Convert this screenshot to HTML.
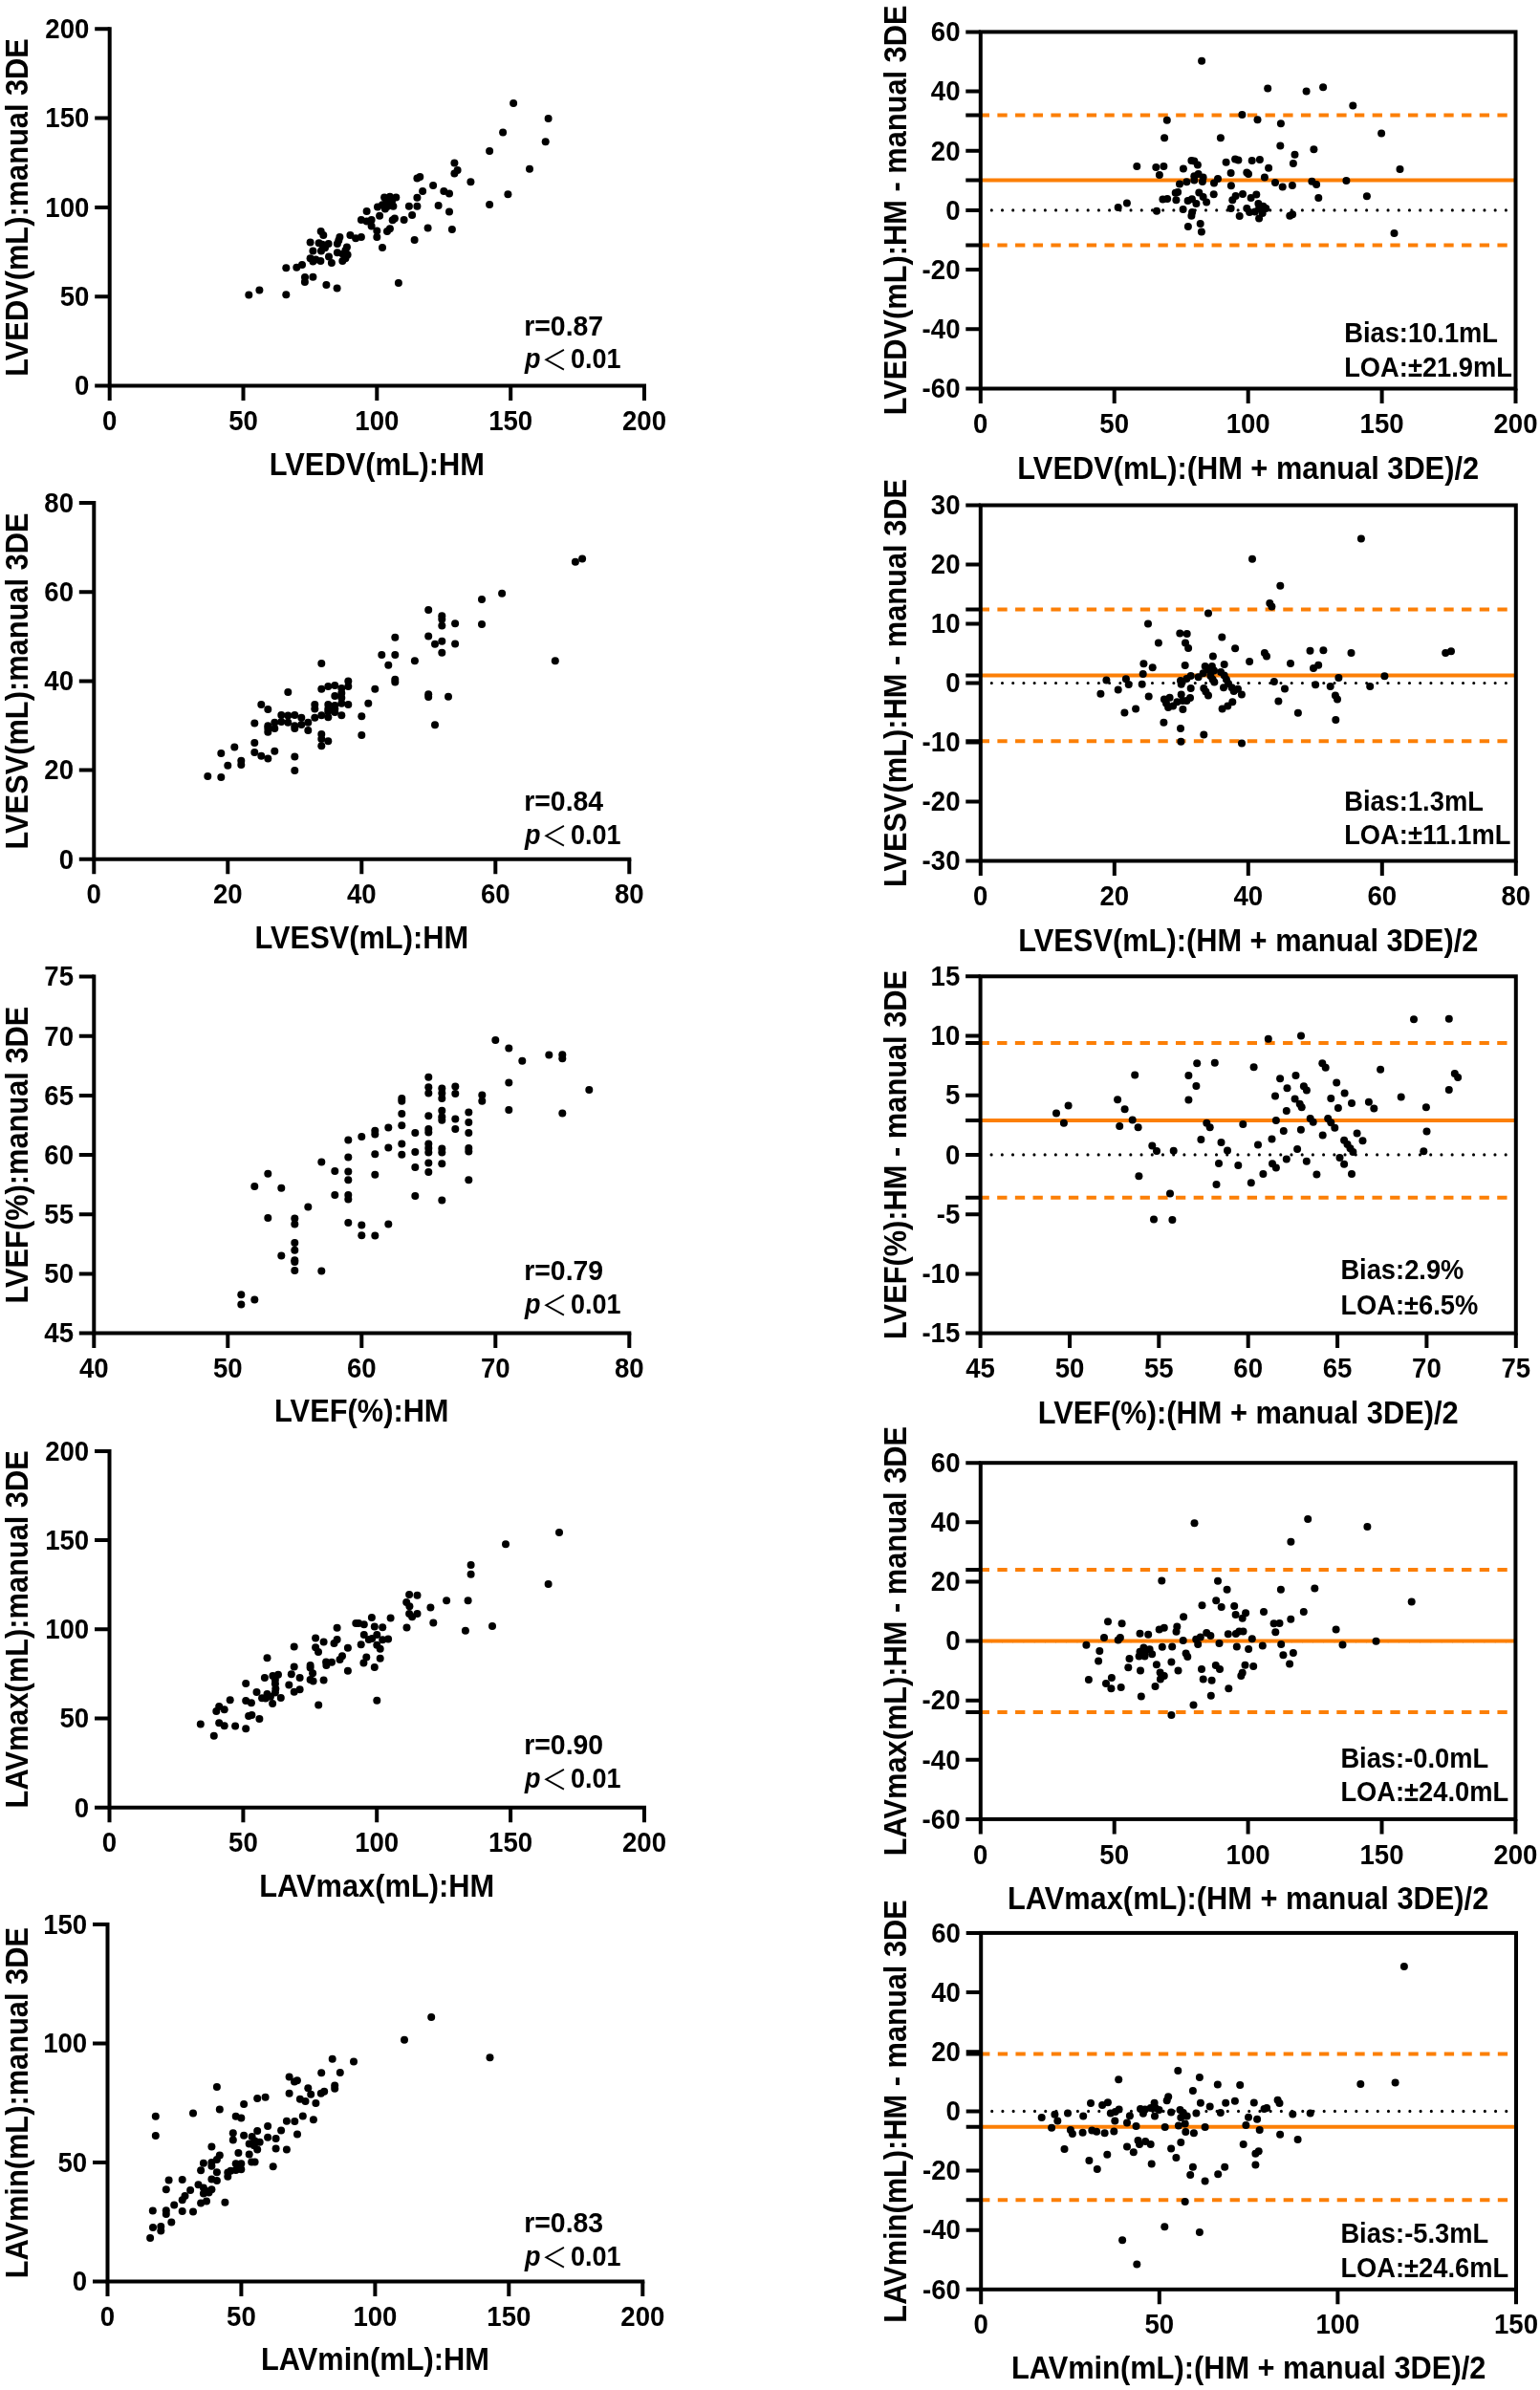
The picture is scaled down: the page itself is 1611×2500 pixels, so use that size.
<!DOCTYPE html>
<html lang="en"><head><meta charset="utf-8"><title>Figure</title>
<style>
html,body{margin:0;padding:0;background:#fff}
svg{display:block;filter:blur(0.55px)}
text{font-family:"Liberation Sans","Noto Sans CJK SC",sans-serif;font-weight:bold;fill:#000}
.t text{font-size:27.6px}
.l{font-size:30.8px}
.a{font-size:27.3px}
.lt{font-family:"Noto Sans CJK SC",sans-serif;font-weight:400}
.d circle{fill:#000}
</style></head><body>
<svg width="1611" height="2500" viewBox="0 0 1611 2500">
<rect width="1611" height="2500" fill="#fff"/>
<g id="P1L">
<path d="M114.7 28.3V403.5H676.0" fill="none" stroke="#000" stroke-width="4.0" stroke-linejoin="miter"/>
<path d="M114.7 403.5v15.5M254.5 403.5v15.5M394.3 403.5v15.5M534.2 403.5v15.5M674.0 403.5v15.5M114.7 403.5h-15.5M114.7 310.2h-15.5M114.7 216.9h-15.5M114.7 123.6h-15.5M114.7 30.3h-15.5" stroke="#000" stroke-width="4.0" fill="none"/>
<g class="t" text-anchor="middle">
<text transform="translate(114.7 450.4) scale(1 1.075)">0</text>
<text transform="translate(254.5 450.4) scale(1 1.075)">50</text>
<text transform="translate(394.3 450.4) scale(1 1.075)">100</text>
<text transform="translate(534.2 450.4) scale(1 1.075)">150</text>
<text transform="translate(674.0 450.4) scale(1 1.075)">200</text>
</g>
<g class="t" text-anchor="end">
<text transform="translate(93.4 413.2) scale(1 1.075)">0</text>
<text transform="translate(93.4 319.9) scale(1 1.075)">50</text>
<text transform="translate(93.4 226.6) scale(1 1.075)">100</text>
<text transform="translate(93.4 133.3) scale(1 1.075)">150</text>
<text transform="translate(93.4 40.0) scale(1 1.075)">200</text>
</g>
<text class="l" text-anchor="middle" transform="translate(394.4 497.0) scale(1 1.075)">LVEDV(mL):HM</text>
<text class="l" text-anchor="middle" transform="translate(28.5 216.9) rotate(-90) scale(1 1.075)">LVEDV(mL):manual 3DE</text>
<text class="a" style="font-size:28.4px" transform="translate(548.2 350.6) scale(1 1.07)">r=0.87</text>
<text class="a" style="font-size:27px" transform="translate(549.0 385.4) scale(1 1.07)"><tspan font-style="italic">p</tspan><tspan class="lt" dy="1.9" dx="1">＜</tspan><tspan dy="-1.9" dx="3.5">0.01</tspan></text>
<g class="d"><circle cx="260.3" cy="308.6" r="4.0"/><circle cx="271.4" cy="303.6" r="4.0"/><circle cx="299.3" cy="308.3" r="4.0"/><circle cx="299.3" cy="280.3" r="4.0"/><circle cx="310.3" cy="279.7" r="4.0"/><circle cx="316.0" cy="276.9" r="4.0"/><circle cx="319.0" cy="290.0" r="4.0"/><circle cx="318.9" cy="295.0" r="4.0"/><circle cx="327.4" cy="289.7" r="4.0"/><circle cx="341.4" cy="297.9" r="4.0"/><circle cx="352.6" cy="301.4" r="4.0"/><circle cx="416.9" cy="296.1" r="4.0"/><circle cx="324.6" cy="253.6" r="4.0"/><circle cx="327.4" cy="262.6" r="4.0"/><circle cx="324.6" cy="270.3" r="4.0"/><circle cx="327.4" cy="273.6" r="4.0"/><circle cx="330.3" cy="271.4" r="4.0"/><circle cx="335.4" cy="272.9" r="4.0"/><circle cx="335.7" cy="242.1" r="4.0"/><circle cx="338.3" cy="246.0" r="4.0"/><circle cx="333.6" cy="254.3" r="4.0"/><circle cx="337.1" cy="255.7" r="4.0"/><circle cx="343.6" cy="255.0" r="4.0"/><circle cx="340.0" cy="259.3" r="4.0"/><circle cx="336.0" cy="262.6" r="4.0"/><circle cx="344.0" cy="268.6" r="4.0"/><circle cx="346.9" cy="275.0" r="4.0"/><circle cx="355.4" cy="247.9" r="4.0"/><circle cx="354.3" cy="251.4" r="4.0"/><circle cx="352.9" cy="255.0" r="4.0"/><circle cx="352.9" cy="264.3" r="4.0"/><circle cx="358.6" cy="265.7" r="4.0"/><circle cx="362.9" cy="258.6" r="4.0"/><circle cx="361.4" cy="262.1" r="4.0"/><circle cx="363.6" cy="266.4" r="4.0"/><circle cx="361.4" cy="270.3" r="4.0"/><circle cx="358.3" cy="272.9" r="4.0"/><circle cx="366.4" cy="246.0" r="4.0"/><circle cx="372.1" cy="249.3" r="4.0"/><circle cx="377.9" cy="247.9" r="4.0"/><circle cx="377.9" cy="230.0" r="4.0"/><circle cx="383.6" cy="221.1" r="4.0"/><circle cx="383.6" cy="231.4" r="4.0"/><circle cx="388.6" cy="230.0" r="4.0"/><circle cx="388.6" cy="236.4" r="4.0"/><circle cx="394.3" cy="241.4" r="4.0"/><circle cx="394.3" cy="247.9" r="4.0"/><circle cx="400.0" cy="258.9" r="4.0"/><circle cx="397.1" cy="225.7" r="4.0"/><circle cx="395.0" cy="216.4" r="4.0"/><circle cx="402.1" cy="206.4" r="4.0"/><circle cx="407.9" cy="205.7" r="4.0"/><circle cx="414.3" cy="206.4" r="4.0"/><circle cx="404.3" cy="210.7" r="4.0"/><circle cx="410.0" cy="210.7" r="4.0"/><circle cx="400.0" cy="214.3" r="4.0"/><circle cx="405.7" cy="215.7" r="4.0"/><circle cx="411.4" cy="215.7" r="4.0"/><circle cx="402.9" cy="218.6" r="4.0"/><circle cx="412.9" cy="228.6" r="4.0"/><circle cx="410.7" cy="230.3" r="4.0"/><circle cx="422.6" cy="230.0" r="4.0"/><circle cx="407.9" cy="239.3" r="4.0"/><circle cx="405.0" cy="242.1" r="4.0"/><circle cx="431.1" cy="225.0" r="4.0"/><circle cx="427.9" cy="215.7" r="4.0"/><circle cx="436.4" cy="215.7" r="4.0"/><circle cx="436.4" cy="206.7" r="4.0"/><circle cx="442.1" cy="200.0" r="4.0"/><circle cx="436.4" cy="186.4" r="4.0"/><circle cx="439.3" cy="185.0" r="4.0"/><circle cx="453.1" cy="193.9" r="4.0"/><circle cx="458.6" cy="215.0" r="4.0"/><circle cx="447.6" cy="238.6" r="4.0"/><circle cx="433.6" cy="251.1" r="4.0"/><circle cx="537.1" cy="108.1" r="4.0"/><circle cx="573.6" cy="123.9" r="4.0"/><circle cx="526.1" cy="138.6" r="4.0"/><circle cx="570.7" cy="148.3" r="4.0"/><circle cx="512.1" cy="158.0" r="4.0"/><circle cx="554.0" cy="176.7" r="4.0"/><circle cx="475.4" cy="170.4" r="4.0"/><circle cx="478.6" cy="177.9" r="4.0"/><circle cx="475.4" cy="181.4" r="4.0"/><circle cx="492.4" cy="190.3" r="4.0"/><circle cx="531.4" cy="203.3" r="4.0"/><circle cx="512.1" cy="214.0" r="4.0"/><circle cx="464.3" cy="200.0" r="4.0"/><circle cx="470.0" cy="202.4" r="4.0"/><circle cx="470.0" cy="221.4" r="4.0"/><circle cx="472.9" cy="240.0" r="4.0"/></g>
</g>
<g id="P2L">
<path d="M98.3 524.1V898.8H660.3" fill="none" stroke="#000" stroke-width="4.0" stroke-linejoin="miter"/>
<path d="M98.3 898.8v15.5M238.3 898.8v15.5M378.3 898.8v15.5M518.3 898.8v15.5M658.3 898.8v15.5M98.3 898.8h-15.5M98.3 805.6h-15.5M98.3 712.5h-15.5M98.3 619.3h-15.5M98.3 526.1h-15.5" stroke="#000" stroke-width="4.0" fill="none"/>
<g class="t" text-anchor="middle">
<text transform="translate(98.3 945.4) scale(1 1.075)">0</text>
<text transform="translate(238.3 945.4) scale(1 1.075)">20</text>
<text transform="translate(378.3 945.4) scale(1 1.075)">40</text>
<text transform="translate(518.3 945.4) scale(1 1.075)">60</text>
<text transform="translate(658.3 945.4) scale(1 1.075)">80</text>
</g>
<g class="t" text-anchor="end">
<text transform="translate(77.0 908.5) scale(1 1.075)">0</text>
<text transform="translate(77.0 815.3) scale(1 1.075)">20</text>
<text transform="translate(77.0 722.2) scale(1 1.075)">40</text>
<text transform="translate(77.0 629.0) scale(1 1.075)">60</text>
<text transform="translate(77.0 535.8) scale(1 1.075)">80</text>
</g>
<text class="l" text-anchor="middle" transform="translate(378.3 992.0) scale(1 1.075)">LVESV(mL):HM</text>
<text class="l" text-anchor="middle" transform="translate(28.5 712.5) rotate(-90) scale(1 1.075)">LVESV(mL):manual 3DE</text>
<text class="a" style="font-size:28.4px" transform="translate(548.2 848.3) scale(1 1.07)">r=0.84</text>
<text class="a" style="font-size:27px" transform="translate(549.0 883.4) scale(1 1.07)"><tspan font-style="italic">p</tspan><tspan class="lt" dy="1.9" dx="1">＜</tspan><tspan dy="-1.9" dx="3.5">0.01</tspan></text>
<g class="d"><circle cx="217.3" cy="811.9" r="4.0"/><circle cx="231.3" cy="787.9" r="4.0"/><circle cx="231.3" cy="812.9" r="4.0"/><circle cx="238.3" cy="800.7" r="4.0"/><circle cx="245.3" cy="781.4" r="4.0"/><circle cx="252.3" cy="795.7" r="4.0"/><circle cx="252.3" cy="800.0" r="4.0"/><circle cx="266.3" cy="756.4" r="4.0"/><circle cx="266.3" cy="777.1" r="4.0"/><circle cx="266.3" cy="787.1" r="4.0"/><circle cx="273.3" cy="736.9" r="4.0"/><circle cx="273.3" cy="790.7" r="4.0"/><circle cx="280.3" cy="742.1" r="4.0"/><circle cx="280.3" cy="759.3" r="4.0"/><circle cx="280.3" cy="762.1" r="4.0"/><circle cx="280.3" cy="765.7" r="4.0"/><circle cx="280.3" cy="793.6" r="4.0"/><circle cx="287.3" cy="755.7" r="4.0"/><circle cx="287.3" cy="762.1" r="4.0"/><circle cx="287.3" cy="785.7" r="4.0"/><circle cx="294.3" cy="747.9" r="4.0"/><circle cx="294.3" cy="755.0" r="4.0"/><circle cx="301.3" cy="723.9" r="4.0"/><circle cx="301.3" cy="748.6" r="4.0"/><circle cx="301.3" cy="755.7" r="4.0"/><circle cx="308.3" cy="747.9" r="4.0"/><circle cx="308.3" cy="759.3" r="4.0"/><circle cx="308.3" cy="762.1" r="4.0"/><circle cx="308.3" cy="791.4" r="4.0"/><circle cx="308.3" cy="806.0" r="4.0"/><circle cx="315.3" cy="750.7" r="4.0"/><circle cx="315.3" cy="757.9" r="4.0"/><circle cx="322.3" cy="755.7" r="4.0"/><circle cx="322.3" cy="764.0" r="4.0"/><circle cx="329.3" cy="736.9" r="4.0"/><circle cx="329.3" cy="741.4" r="4.0"/><circle cx="329.3" cy="750.7" r="4.0"/><circle cx="336.3" cy="693.9" r="4.0"/><circle cx="336.3" cy="720.7" r="4.0"/><circle cx="336.3" cy="748.3" r="4.0"/><circle cx="336.3" cy="767.9" r="4.0"/><circle cx="336.3" cy="772.9" r="4.0"/><circle cx="336.3" cy="780.3" r="4.0"/><circle cx="343.3" cy="717.9" r="4.0"/><circle cx="343.3" cy="737.1" r="4.0"/><circle cx="343.3" cy="741.4" r="4.0"/><circle cx="343.3" cy="744.3" r="4.0"/><circle cx="343.3" cy="750.3" r="4.0"/><circle cx="343.3" cy="775.3" r="4.0"/><circle cx="350.3" cy="716.9" r="4.0"/><circle cx="350.3" cy="728.1" r="4.0"/><circle cx="350.3" cy="737.9" r="4.0"/><circle cx="350.3" cy="741.4" r="4.0"/><circle cx="350.3" cy="745.0" r="4.0"/><circle cx="357.3" cy="720.0" r="4.0"/><circle cx="357.3" cy="725.0" r="4.0"/><circle cx="357.3" cy="730.0" r="4.0"/><circle cx="357.3" cy="735.7" r="4.0"/><circle cx="357.3" cy="748.3" r="4.0"/><circle cx="364.3" cy="712.6" r="4.0"/><circle cx="364.3" cy="717.9" r="4.0"/><circle cx="364.3" cy="736.9" r="4.0"/><circle cx="378.3" cy="749.3" r="4.0"/><circle cx="378.3" cy="768.9" r="4.0"/><circle cx="385.3" cy="735.7" r="4.0"/><circle cx="392.3" cy="720.7" r="4.0"/><circle cx="399.3" cy="685.0" r="4.0"/><circle cx="406.3" cy="695.7" r="4.0"/><circle cx="413.3" cy="685.0" r="4.0"/><circle cx="413.3" cy="710.7" r="4.0"/><circle cx="413.3" cy="713.6" r="4.0"/><circle cx="609.1" cy="584.4" r="4.0"/><circle cx="601.9" cy="587.7" r="4.0"/><circle cx="525.1" cy="620.7" r="4.0"/><circle cx="504.0" cy="626.9" r="4.0"/><circle cx="448.2" cy="637.9" r="4.0"/><circle cx="462.3" cy="644.3" r="4.0"/><circle cx="462.3" cy="647.7" r="4.0"/><circle cx="462.3" cy="654.4" r="4.0"/><circle cx="476.1" cy="652.2" r="4.0"/><circle cx="504.0" cy="653.1" r="4.0"/><circle cx="413.3" cy="666.7" r="4.0"/><circle cx="448.2" cy="665.6" r="4.0"/><circle cx="462.3" cy="670.8" r="4.0"/><circle cx="455.0" cy="673.8" r="4.0"/><circle cx="476.1" cy="673.5" r="4.0"/><circle cx="462.3" cy="682.8" r="4.0"/><circle cx="433.9" cy="691.2" r="4.0"/><circle cx="580.8" cy="691.2" r="4.0"/><circle cx="448.2" cy="726.2" r="4.0"/><circle cx="448.2" cy="729.0" r="4.0"/><circle cx="469.0" cy="728.7" r="4.0"/><circle cx="455.0" cy="758.2" r="4.0"/></g>
</g>
<g id="P3L">
<path d="M98.3 1019.6V1394.6H660.3" fill="none" stroke="#000" stroke-width="4.0" stroke-linejoin="miter"/>
<path d="M98.3 1394.6v15.5M238.3 1394.6v15.5M378.3 1394.6v15.5M518.3 1394.6v15.5M658.3 1394.6v15.5M98.3 1394.6h-15.5M98.3 1332.4h-15.5M98.3 1270.3h-15.5M98.3 1208.1h-15.5M98.3 1145.9h-15.5M98.3 1083.8h-15.5M98.3 1021.6h-15.5" stroke="#000" stroke-width="4.0" fill="none"/>
<g class="t" text-anchor="middle">
<text transform="translate(98.3 1441.4) scale(1 1.075)">40</text>
<text transform="translate(238.3 1441.4) scale(1 1.075)">50</text>
<text transform="translate(378.3 1441.4) scale(1 1.075)">60</text>
<text transform="translate(518.3 1441.4) scale(1 1.075)">70</text>
<text transform="translate(658.3 1441.4) scale(1 1.075)">80</text>
</g>
<g class="t" text-anchor="end">
<text transform="translate(77.0 1404.3) scale(1 1.075)">45</text>
<text transform="translate(77.0 1342.1) scale(1 1.075)">50</text>
<text transform="translate(77.0 1280.0) scale(1 1.075)">55</text>
<text transform="translate(77.0 1217.8) scale(1 1.075)">60</text>
<text transform="translate(77.0 1155.6) scale(1 1.075)">65</text>
<text transform="translate(77.0 1093.5) scale(1 1.075)">70</text>
<text transform="translate(77.0 1031.3) scale(1 1.075)">75</text>
</g>
<text class="l" text-anchor="middle" transform="translate(378.3 1487.0) scale(1 1.075)">LVEF(%):HM</text>
<text class="l" text-anchor="middle" transform="translate(28.5 1208.1) rotate(-90) scale(1 1.075)">LVEF(%):manual 3DE</text>
<text class="a" style="font-size:28.4px" transform="translate(548.2 1339.0) scale(1 1.07)">r=0.79</text>
<text class="a" style="font-size:27px" transform="translate(549.0 1374.0) scale(1 1.07)"><tspan font-style="italic">p</tspan><tspan class="lt" dy="1.9" dx="1">＜</tspan><tspan dy="-1.9" dx="3.5">0.01</tspan></text>
<g class="d"><circle cx="266.3" cy="1240.9" r="4.0"/><circle cx="280.3" cy="1227.8" r="4.0"/><circle cx="294.3" cy="1242.7" r="4.0"/><circle cx="322.3" cy="1262.4" r="4.0"/><circle cx="336.3" cy="1215.5" r="4.0"/><circle cx="350.3" cy="1224.9" r="4.0"/><circle cx="350.3" cy="1250.0" r="4.0"/><circle cx="364.3" cy="1192.4" r="4.0"/><circle cx="364.3" cy="1210.4" r="4.0"/><circle cx="364.3" cy="1225.5" r="4.0"/><circle cx="364.3" cy="1234.2" r="4.0"/><circle cx="364.3" cy="1250.0" r="4.0"/><circle cx="364.3" cy="1254.5" r="4.0"/><circle cx="378.3" cy="1189.1" r="4.0"/><circle cx="392.3" cy="1182.7" r="4.0"/><circle cx="392.3" cy="1186.4" r="4.0"/><circle cx="392.3" cy="1207.3" r="4.0"/><circle cx="392.3" cy="1228.7" r="4.0"/><circle cx="406.3" cy="1179.5" r="4.0"/><circle cx="406.3" cy="1200.5" r="4.0"/><circle cx="420.3" cy="1149.1" r="4.0"/><circle cx="420.3" cy="1151.8" r="4.0"/><circle cx="420.3" cy="1164.9" r="4.0"/><circle cx="420.3" cy="1177.3" r="4.0"/><circle cx="420.3" cy="1196.4" r="4.0"/><circle cx="420.3" cy="1207.8" r="4.0"/><circle cx="434.3" cy="1185.1" r="4.0"/><circle cx="434.3" cy="1205.1" r="4.0"/><circle cx="434.3" cy="1220.9" r="4.0"/><circle cx="434.3" cy="1250.9" r="4.0"/><circle cx="448.3" cy="1126.7" r="4.0"/><circle cx="448.3" cy="1137.3" r="4.0"/><circle cx="448.3" cy="1143.6" r="4.0"/><circle cx="448.3" cy="1167.3" r="4.0"/><circle cx="448.3" cy="1180.9" r="4.0"/><circle cx="448.3" cy="1184.5" r="4.0"/><circle cx="448.3" cy="1196.4" r="4.0"/><circle cx="448.3" cy="1200.9" r="4.0"/><circle cx="448.3" cy="1205.5" r="4.0"/><circle cx="448.3" cy="1216.4" r="4.0"/><circle cx="448.3" cy="1226.0" r="4.0"/><circle cx="462.3" cy="1138.5" r="4.0"/><circle cx="462.3" cy="1143.6" r="4.0"/><circle cx="462.3" cy="1149.1" r="4.0"/><circle cx="462.3" cy="1161.8" r="4.0"/><circle cx="462.3" cy="1168.2" r="4.0"/><circle cx="462.3" cy="1171.8" r="4.0"/><circle cx="462.3" cy="1201.5" r="4.0"/><circle cx="462.3" cy="1205.5" r="4.0"/><circle cx="462.3" cy="1217.3" r="4.0"/><circle cx="462.3" cy="1255.5" r="4.0"/><circle cx="476.3" cy="1136.4" r="4.0"/><circle cx="476.3" cy="1144.0" r="4.0"/><circle cx="476.3" cy="1170.4" r="4.0"/><circle cx="476.3" cy="1180.9" r="4.0"/><circle cx="490.3" cy="1163.6" r="4.0"/><circle cx="490.3" cy="1174.0" r="4.0"/><circle cx="490.3" cy="1185.1" r="4.0"/><circle cx="490.3" cy="1200.9" r="4.0"/><circle cx="490.3" cy="1204.5" r="4.0"/><circle cx="490.3" cy="1234.2" r="4.0"/><circle cx="504.3" cy="1145.5" r="4.0"/><circle cx="504.3" cy="1151.8" r="4.0"/><circle cx="252.3" cy="1354.2" r="4.0"/><circle cx="252.3" cy="1364.5" r="4.0"/><circle cx="266.3" cy="1359.6" r="4.0"/><circle cx="280.3" cy="1274.0" r="4.0"/><circle cx="294.3" cy="1313.6" r="4.0"/><circle cx="308.3" cy="1274.5" r="4.0"/><circle cx="308.3" cy="1280.5" r="4.0"/><circle cx="308.3" cy="1300.0" r="4.0"/><circle cx="308.3" cy="1307.8" r="4.0"/><circle cx="308.3" cy="1318.2" r="4.0"/><circle cx="308.3" cy="1320.0" r="4.0"/><circle cx="308.3" cy="1329.1" r="4.0"/><circle cx="336.3" cy="1329.6" r="4.0"/><circle cx="364.3" cy="1279.1" r="4.0"/><circle cx="378.3" cy="1281.5" r="4.0"/><circle cx="378.3" cy="1292.2" r="4.0"/><circle cx="392.3" cy="1292.4" r="4.0"/><circle cx="406.3" cy="1280.4" r="4.0"/><circle cx="518.3" cy="1088.1" r="4.0"/><circle cx="532.3" cy="1096.5" r="4.0"/><circle cx="532.3" cy="1132.5" r="4.0"/><circle cx="532.3" cy="1161.1" r="4.0"/><circle cx="546.3" cy="1109.7" r="4.0"/><circle cx="574.3" cy="1103.5" r="4.0"/><circle cx="588.3" cy="1103.2" r="4.0"/><circle cx="588.3" cy="1107.3" r="4.0"/><circle cx="588.3" cy="1164.4" r="4.0"/><circle cx="616.3" cy="1140.1" r="4.0"/></g>
</g>
<g id="P4L">
<path d="M114.5 1515.9V1890.8H676.0" fill="none" stroke="#000" stroke-width="4.0" stroke-linejoin="miter"/>
<path d="M114.5 1890.8v15.5M254.4 1890.8v15.5M394.2 1890.8v15.5M534.1 1890.8v15.5M674.0 1890.8v15.5M114.5 1890.8h-15.5M114.5 1797.6h-15.5M114.5 1704.3h-15.5M114.5 1611.1h-15.5M114.5 1517.9h-15.5" stroke="#000" stroke-width="4.0" fill="none"/>
<g class="t" text-anchor="middle">
<text transform="translate(114.5 1937.4) scale(1 1.075)">0</text>
<text transform="translate(254.4 1937.4) scale(1 1.075)">50</text>
<text transform="translate(394.2 1937.4) scale(1 1.075)">100</text>
<text transform="translate(534.1 1937.4) scale(1 1.075)">150</text>
<text transform="translate(674.0 1937.4) scale(1 1.075)">200</text>
</g>
<g class="t" text-anchor="end">
<text transform="translate(93.2 1900.5) scale(1 1.075)">0</text>
<text transform="translate(93.2 1807.3) scale(1 1.075)">50</text>
<text transform="translate(93.2 1714.0) scale(1 1.075)">100</text>
<text transform="translate(93.2 1620.8) scale(1 1.075)">150</text>
<text transform="translate(93.2 1527.6) scale(1 1.075)">200</text>
</g>
<text class="l" text-anchor="middle" transform="translate(394.2 1984.0) scale(1 1.075)">LAVmax(mL):HM</text>
<text class="l" text-anchor="middle" transform="translate(28.5 1704.3) rotate(-90) scale(1 1.075)">LAVmax(mL):manual 3DE</text>
<text class="a" style="font-size:28.4px" transform="translate(548.2 1834.9) scale(1 1.07)">r=0.90</text>
<text class="a" style="font-size:27px" transform="translate(549.0 1869.5) scale(1 1.07)"><tspan font-style="italic">p</tspan><tspan class="lt" dy="1.9" dx="1">＜</tspan><tspan dy="-1.9" dx="3.5">0.01</tspan></text>
<g class="d"><circle cx="209.8" cy="1803.5" r="4.0"/><circle cx="223.8" cy="1815.8" r="4.0"/><circle cx="229.2" cy="1784.9" r="4.0"/><circle cx="226.3" cy="1790.0" r="4.0"/><circle cx="234.7" cy="1788.3" r="4.0"/><circle cx="240.7" cy="1778.2" r="4.0"/><circle cx="229.2" cy="1802.3" r="4.0"/><circle cx="234.7" cy="1805.2" r="4.0"/><circle cx="246.1" cy="1805.5" r="4.0"/><circle cx="257.2" cy="1808.2" r="4.0"/><circle cx="257.2" cy="1761.0" r="4.0"/><circle cx="257.2" cy="1779.0" r="4.0"/><circle cx="262.9" cy="1781.2" r="4.0"/><circle cx="260.1" cy="1795.1" r="4.0"/><circle cx="263.4" cy="1793.9" r="4.0"/><circle cx="271.4" cy="1797.9" r="4.0"/><circle cx="268.5" cy="1770.1" r="4.0"/><circle cx="274.1" cy="1776.2" r="4.0"/><circle cx="277.8" cy="1776.5" r="4.0"/><circle cx="279.5" cy="1771.9" r="4.0"/><circle cx="282.9" cy="1774.8" r="4.0"/><circle cx="285.1" cy="1781.9" r="4.0"/><circle cx="293.8" cy="1776.0" r="4.0"/><circle cx="276.9" cy="1754.9" r="4.0"/><circle cx="279.5" cy="1734.3" r="4.0"/><circle cx="285.4" cy="1752.9" r="4.0"/><circle cx="291.0" cy="1751.7" r="4.0"/><circle cx="287.9" cy="1757.1" r="4.0"/><circle cx="287.9" cy="1761.3" r="4.0"/><circle cx="288.3" cy="1766.4" r="4.0"/><circle cx="287.9" cy="1770.6" r="4.0"/><circle cx="302.3" cy="1762.5" r="4.0"/><circle cx="304.8" cy="1751.2" r="4.0"/><circle cx="307.7" cy="1743.6" r="4.0"/><circle cx="307.7" cy="1722.5" r="4.0"/><circle cx="313.6" cy="1755.1" r="4.0"/><circle cx="307.7" cy="1769.7" r="4.0"/><circle cx="313.6" cy="1767.2" r="4.0"/><circle cx="324.6" cy="1741.9" r="4.0"/><circle cx="324.6" cy="1744.4" r="4.0"/><circle cx="327.1" cy="1750.3" r="4.0"/><circle cx="324.6" cy="1757.1" r="4.0"/><circle cx="327.6" cy="1758.4" r="4.0"/><circle cx="333.2" cy="1783.6" r="4.0"/><circle cx="338.6" cy="1757.4" r="4.0"/><circle cx="330.1" cy="1713.5" r="4.0"/><circle cx="338.6" cy="1717.4" r="4.0"/><circle cx="330.1" cy="1723.3" r="4.0"/><circle cx="333.0" cy="1728.0" r="4.0"/><circle cx="341.1" cy="1738.5" r="4.0"/><circle cx="341.4" cy="1741.9" r="4.0"/><circle cx="347.0" cy="1738.8" r="4.0"/><circle cx="352.6" cy="1702.7" r="4.0"/><circle cx="352.6" cy="1714.9" r="4.0"/><circle cx="349.5" cy="1719.1" r="4.0"/><circle cx="358.0" cy="1732.3" r="4.0"/><circle cx="355.5" cy="1736.0" r="4.0"/><circle cx="363.9" cy="1723.7" r="4.0"/><circle cx="363.9" cy="1747.8" r="4.0"/><circle cx="372.3" cy="1698.0" r="4.0"/><circle cx="375.2" cy="1698.0" r="4.0"/><circle cx="380.8" cy="1699.2" r="4.0"/><circle cx="388.9" cy="1692.1" r="4.0"/><circle cx="391.8" cy="1701.4" r="4.0"/><circle cx="400.2" cy="1702.2" r="4.0"/><circle cx="408.6" cy="1692.4" r="4.0"/><circle cx="380.8" cy="1710.1" r="4.0"/><circle cx="385.8" cy="1714.9" r="4.0"/><circle cx="389.2" cy="1714.0" r="4.0"/><circle cx="394.3" cy="1710.1" r="4.0"/><circle cx="400.2" cy="1715.2" r="4.0"/><circle cx="406.1" cy="1714.5" r="4.0"/><circle cx="377.7" cy="1720.3" r="4.0"/><circle cx="394.3" cy="1720.8" r="4.0"/><circle cx="397.7" cy="1724.7" r="4.0"/><circle cx="383.3" cy="1733.4" r="4.0"/><circle cx="380.4" cy="1739.4" r="4.0"/><circle cx="397.7" cy="1734.8" r="4.0"/><circle cx="391.8" cy="1743.9" r="4.0"/><circle cx="394.3" cy="1778.7" r="4.0"/><circle cx="425.5" cy="1702.5" r="4.0"/><circle cx="428.1" cy="1667.9" r="4.0"/><circle cx="436.5" cy="1668.8" r="4.0"/><circle cx="425.2" cy="1676.0" r="4.0"/><circle cx="428.4" cy="1680.3" r="4.0"/><circle cx="428.1" cy="1687.9" r="4.0"/><circle cx="431.1" cy="1691.2" r="4.0"/><circle cx="436.5" cy="1687.9" r="4.0"/><circle cx="585" cy="1602.9" r="4.0"/><circle cx="529" cy="1615.3" r="4.0"/><circle cx="492.6" cy="1637.1" r="4.0"/><circle cx="492.6" cy="1646.7" r="4.0"/><circle cx="573.6" cy="1657.1" r="4.0"/><circle cx="467.1" cy="1674.3" r="4.0"/><circle cx="489.6" cy="1674.3" r="4.0"/><circle cx="450.4" cy="1681.4" r="4.0"/><circle cx="453.3" cy="1697.4" r="4.0"/><circle cx="515" cy="1701" r="4.0"/><circle cx="486.9" cy="1705.7" r="4.0"/></g>
</g>
<g id="P5L">
<path d="M112.5 2010.9V2386.4H674.3" fill="none" stroke="#000" stroke-width="4.0" stroke-linejoin="miter"/>
<path d="M112.5 2386.4v15.5M252.4 2386.4v15.5M392.4 2386.4v15.5M532.3 2386.4v15.5M672.3 2386.4v15.5M112.5 2386.4h-15.5M112.5 2261.9h-15.5M112.5 2137.4h-15.5M112.5 2012.9h-15.5" stroke="#000" stroke-width="4.0" fill="none"/>
<g class="t" text-anchor="middle">
<text transform="translate(112.5 2432.7) scale(1 1.075)">0</text>
<text transform="translate(252.4 2432.7) scale(1 1.075)">50</text>
<text transform="translate(392.4 2432.7) scale(1 1.075)">100</text>
<text transform="translate(532.3 2432.7) scale(1 1.075)">150</text>
<text transform="translate(672.3 2432.7) scale(1 1.075)">200</text>
</g>
<g class="t" text-anchor="end">
<text transform="translate(91.2 2396.1) scale(1 1.075)">0</text>
<text transform="translate(91.2 2271.6) scale(1 1.075)">50</text>
<text transform="translate(91.2 2147.1) scale(1 1.075)">100</text>
<text transform="translate(91.2 2022.6) scale(1 1.075)">150</text>
</g>
<text class="l" text-anchor="middle" transform="translate(392.4 2479.0) scale(1 1.075)">LAVmin(mL):HM</text>
<text class="l" text-anchor="middle" transform="translate(28.5 2199.7) rotate(-90) scale(1 1.075)">LAVmin(mL):manual 3DE</text>
<text class="a" style="font-size:28.4px" transform="translate(548.2 2334.9) scale(1 1.07)">r=0.83</text>
<text class="a" style="font-size:27px" transform="translate(549.0 2369.5) scale(1 1.07)"><tspan font-style="italic">p</tspan><tspan class="lt" dy="1.9" dx="1">＜</tspan><tspan dy="-1.9" dx="3.5">0.01</tspan></text>
<g class="d"><circle cx="347.7" cy="2153.8" r="4.0"/><circle cx="370.0" cy="2156.5" r="4.0"/><circle cx="336.2" cy="2168.2" r="4.0"/><circle cx="355.8" cy="2167.9" r="4.0"/><circle cx="302.6" cy="2172.4" r="4.0"/><circle cx="308.0" cy="2177.5" r="4.0"/><circle cx="310.9" cy="2176.3" r="4.0"/><circle cx="350.2" cy="2181.4" r="4.0"/><circle cx="350.2" cy="2184.7" r="4.0"/><circle cx="322.3" cy="2184.2" r="4.0"/><circle cx="325.2" cy="2190.7" r="4.0"/><circle cx="335.8" cy="2189.8" r="4.0"/><circle cx="339.2" cy="2187.8" r="4.0"/><circle cx="302.6" cy="2189.8" r="4.0"/><circle cx="313.9" cy="2195.7" r="4.0"/><circle cx="319.5" cy="2197.9" r="4.0"/><circle cx="330.4" cy="2199.9" r="4.0"/><circle cx="226.9" cy="2183.1" r="4.0"/><circle cx="269.2" cy="2194.9" r="4.0"/><circle cx="277.6" cy="2193.7" r="4.0"/><circle cx="255.1" cy="2201.1" r="4.0"/><circle cx="229.8" cy="2206.4" r="4.0"/><circle cx="202.0" cy="2210.4" r="4.0"/><circle cx="162.8" cy="2213.8" r="4.0"/><circle cx="246.7" cy="2213.8" r="4.0"/><circle cx="252.3" cy="2215.5" r="4.0"/><circle cx="316.8" cy="2213.4" r="4.0"/><circle cx="327.9" cy="2217.2" r="4.0"/><circle cx="299.9" cy="2218.8" r="4.0"/><circle cx="308.3" cy="2219.0" r="4.0"/><circle cx="280.1" cy="2223.9" r="4.0"/><circle cx="269.2" cy="2229.1" r="4.0"/><circle cx="294.1" cy="2228.6" r="4.0"/><circle cx="311.0" cy="2232.5" r="4.0"/><circle cx="162.8" cy="2234.0" r="4.0"/><circle cx="243.8" cy="2231.2" r="4.0"/><circle cx="243.8" cy="2238.4" r="4.0"/><circle cx="255.1" cy="2233.7" r="4.0"/><circle cx="280.1" cy="2235.7" r="4.0"/><circle cx="288.6" cy="2237.1" r="4.0"/><circle cx="263.6" cy="2235.1" r="4.0"/><circle cx="266.6" cy="2239.6" r="4.0"/><circle cx="260.7" cy="2242.5" r="4.0"/><circle cx="271.7" cy="2240.8" r="4.0"/><circle cx="265.8" cy="2244.2" r="4.0"/><circle cx="269.2" cy="2248.6" r="4.0"/><circle cx="288.6" cy="2247.5" r="4.0"/><circle cx="299.9" cy="2248.6" r="4.0"/><circle cx="221.4" cy="2245.5" r="4.0"/><circle cx="249.4" cy="2251.9" r="4.0"/><circle cx="260.7" cy="2253.6" r="4.0"/><circle cx="229.8" cy="2254.5" r="4.0"/><circle cx="226.9" cy="2259.0" r="4.0"/><circle cx="212.9" cy="2262.7" r="4.0"/><circle cx="221.4" cy="2261.9" r="4.0"/><circle cx="221.4" cy="2265.8" r="4.0"/><circle cx="263.2" cy="2261.6" r="4.0"/><circle cx="266.6" cy="2261.6" r="4.0"/><circle cx="285.7" cy="2266.3" r="4.0"/><circle cx="246.7" cy="2263.2" r="4.0"/><circle cx="252.3" cy="2263.2" r="4.0"/><circle cx="249.4" cy="2266.6" r="4.0"/><circle cx="246.7" cy="2270.0" r="4.0"/><circle cx="252.3" cy="2269.2" r="4.0"/><circle cx="210.1" cy="2270.3" r="4.0"/><circle cx="226.9" cy="2272.2" r="4.0"/><circle cx="238.3" cy="2272.5" r="4.0"/><circle cx="241.3" cy="2270.8" r="4.0"/><circle cx="238.3" cy="2276.8" r="4.0"/><circle cx="176.6" cy="2280.6" r="4.0"/><circle cx="190.7" cy="2280.1" r="4.0"/><circle cx="221.4" cy="2279.6" r="4.0"/><circle cx="226.9" cy="2281.0" r="4.0"/><circle cx="207.5" cy="2285.2" r="4.0"/><circle cx="173.8" cy="2290.3" r="4.0"/><circle cx="199.1" cy="2291.1" r="4.0"/><circle cx="212.9" cy="2288.6" r="4.0"/><circle cx="216.0" cy="2292.0" r="4.0"/><circle cx="221.4" cy="2290.3" r="4.0"/><circle cx="212.9" cy="2294.5" r="4.0"/><circle cx="218.5" cy="2293.6" r="4.0"/><circle cx="193.5" cy="2297.0" r="4.0"/><circle cx="190.7" cy="2301.2" r="4.0"/><circle cx="182.2" cy="2306.6" r="4.0"/><circle cx="210.1" cy="2304.6" r="4.0"/><circle cx="216.0" cy="2302.4" r="4.0"/><circle cx="235.4" cy="2303.8" r="4.0"/><circle cx="159.8" cy="2312.5" r="4.0"/><circle cx="173.8" cy="2312.2" r="4.0"/><circle cx="173.8" cy="2315.9" r="4.0"/><circle cx="190.7" cy="2313.1" r="4.0"/><circle cx="202.0" cy="2313.4" r="4.0"/><circle cx="179.3" cy="2324.5" r="4.0"/><circle cx="160" cy="2330" r="4.0"/><circle cx="168.3" cy="2328.9" r="4.0"/><circle cx="168.3" cy="2333.6" r="4.0"/><circle cx="157.1" cy="2341.1" r="4.0"/><circle cx="451.2" cy="2110.1" r="4.0"/><circle cx="423" cy="2133.7" r="4.0"/><circle cx="512.5" cy="2152.3" r="4.0"/></g>
</g>
<g id="P1R">
<path d="M1037.3 219.9H1582.5" stroke="#000" stroke-width="3.1" stroke-linecap="round" stroke-dasharray="0.01 11.2" fill="none"/>
<path d="M1025.8 188.5H1585.5" stroke="#FC7F06" stroke-width="4" fill="none"/>
<path d="M1024.7 120.5H1585.5" stroke="#FC7F06" stroke-width="4" stroke-dasharray="10.3 8.38" fill="none"/>
<path d="M1024.7 256.6H1585.5" stroke="#FC7F06" stroke-width="4" stroke-dasharray="10.3 8.38" fill="none"/>
<g class="d"><circle cx="1189.3" cy="173.9" r="4.0"/><circle cx="1209.3" cy="175.0" r="4.0"/><circle cx="1217.4" cy="174.0" r="4.0"/><circle cx="1212.9" cy="182.9" r="4.0"/><circle cx="1237.9" cy="176.4" r="4.0"/><circle cx="1246.4" cy="167.9" r="4.0"/><circle cx="1249.3" cy="168.6" r="4.0"/><circle cx="1252.9" cy="172.6" r="4.0"/><circle cx="1282.6" cy="169.7" r="4.0"/><circle cx="1292.1" cy="166.4" r="4.0"/><circle cx="1295.4" cy="167.4" r="4.0"/><circle cx="1309.7" cy="167.9" r="4.0"/><circle cx="1317.9" cy="167.1" r="4.0"/><circle cx="1327.1" cy="175.7" r="4.0"/><circle cx="1287.6" cy="181.1" r="4.0"/><circle cx="1304.3" cy="180.4" r="4.0"/><circle cx="1306.0" cy="182.1" r="4.0"/><circle cx="1322.9" cy="185.4" r="4.0"/><circle cx="1253.6" cy="182.1" r="4.0"/><circle cx="1249.3" cy="184.3" r="4.0"/><circle cx="1258.6" cy="185.4" r="4.0"/><circle cx="1249.3" cy="188.6" r="4.0"/><circle cx="1257.9" cy="190.0" r="4.0"/><circle cx="1241.4" cy="190.3" r="4.0"/><circle cx="1234.0" cy="192.6" r="4.0"/><circle cx="1274.0" cy="187.1" r="4.0"/><circle cx="1270.0" cy="191.4" r="4.0"/><circle cx="1287.9" cy="194.3" r="4.0"/><circle cx="1334.0" cy="191.0" r="4.0"/><circle cx="1341.7" cy="195.4" r="4.0"/><circle cx="1351.9" cy="194.0" r="4.0"/><circle cx="1372.4" cy="189.7" r="4.0"/><circle cx="1377.1" cy="192.9" r="4.0"/><circle cx="1229.7" cy="201.7" r="4.0"/><circle cx="1232.1" cy="201.1" r="4.0"/><circle cx="1254.3" cy="201.4" r="4.0"/><circle cx="1269.7" cy="203.3" r="4.0"/><circle cx="1300.0" cy="202.9" r="4.0"/><circle cx="1292.6" cy="205.0" r="4.0"/><circle cx="1289.3" cy="209.3" r="4.0"/><circle cx="1314.3" cy="203.6" r="4.0"/><circle cx="1308.6" cy="207.1" r="4.0"/><circle cx="1216.4" cy="208.6" r="4.0"/><circle cx="1221.1" cy="207.9" r="4.0"/><circle cx="1230.4" cy="209.3" r="4.0"/><circle cx="1242.6" cy="210.0" r="4.0"/><circle cx="1246.9" cy="208.3" r="4.0"/><circle cx="1251.4" cy="212.9" r="4.0"/><circle cx="1258.6" cy="206.0" r="4.0"/><circle cx="1262.1" cy="211.4" r="4.0"/><circle cx="1178.9" cy="212.6" r="4.0"/><circle cx="1169.7" cy="217.1" r="4.0"/><circle cx="1210.0" cy="220.7" r="4.0"/><circle cx="1237.6" cy="219.0" r="4.0"/><circle cx="1247.1" cy="222.1" r="4.0"/><circle cx="1246.4" cy="225.7" r="4.0"/><circle cx="1242.9" cy="237.1" r="4.0"/><circle cx="1255.7" cy="234.0" r="4.0"/><circle cx="1256.9" cy="242.6" r="4.0"/><circle cx="1287.6" cy="217.9" r="4.0"/><circle cx="1296.7" cy="226.1" r="4.0"/><circle cx="1304.3" cy="217.9" r="4.0"/><circle cx="1307.1" cy="222.1" r="4.0"/><circle cx="1312.9" cy="221.4" r="4.0"/><circle cx="1316.4" cy="212.9" r="4.0"/><circle cx="1321.4" cy="215.7" r="4.0"/><circle cx="1324.3" cy="217.9" r="4.0"/><circle cx="1320.7" cy="222.9" r="4.0"/><circle cx="1317.1" cy="228.6" r="4.0"/><circle cx="1317.1" cy="218.3" r="4.0"/><circle cx="1349.3" cy="225.7" r="4.0"/><circle cx="1352.1" cy="224.3" r="4.0"/><circle cx="1379.3" cy="207.1" r="4.0"/><circle cx="1257.1" cy="63.8" r="4.0"/><circle cx="1326.2" cy="92.6" r="4.0"/><circle cx="1366.6" cy="95.5" r="4.0"/><circle cx="1384.1" cy="91.2" r="4.0"/><circle cx="1415.3" cy="110.5" r="4.0"/><circle cx="1299.4" cy="119.9" r="4.0"/><circle cx="1315.5" cy="125.3" r="4.0"/><circle cx="1220.8" cy="125.7" r="4.0"/><circle cx="1339.9" cy="129.2" r="4.0"/><circle cx="1218.1" cy="144.2" r="4.0"/><circle cx="1276.9" cy="144.2" r="4.0"/><circle cx="1445.1" cy="139.4" r="4.0"/><circle cx="1339.3" cy="152.6" r="4.0"/><circle cx="1374.4" cy="156.3" r="4.0"/><circle cx="1354.5" cy="161.8" r="4.0"/><circle cx="1352.9" cy="170.9" r="4.0"/><circle cx="1464.5" cy="176.9" r="4.0"/><circle cx="1408.4" cy="189.0" r="4.0"/><circle cx="1429.9" cy="205.2" r="4.0"/><circle cx="1458.5" cy="244.0" r="4.0"/></g>
<rect x="1025.8" y="33.4" width="559.7" height="373.1" fill="none" stroke="#000" stroke-width="4.0"/>
<path d="M1025.8 406.5v15.5M1165.7 406.5v15.5M1305.7 406.5v15.5M1445.6 406.5v15.5M1585.5 406.5v15.5M1025.8 406.5h-15.5M1025.8 344.3h-15.5M1025.8 282.1h-15.5M1025.8 219.9h-15.5M1025.8 157.8h-15.5M1025.8 95.6h-15.5M1025.8 33.4h-15.5M1025.8 188.5h-15.5M1025.8 120.5h-15.5M1025.8 256.6h-15.5" stroke="#000" stroke-width="4.0" fill="none"/>
<g class="t" text-anchor="middle">
<text transform="translate(1025.8 453.1) scale(1 1.075)">0</text>
<text transform="translate(1165.7 453.1) scale(1 1.075)">50</text>
<text transform="translate(1305.7 453.1) scale(1 1.075)">100</text>
<text transform="translate(1445.6 453.1) scale(1 1.075)">150</text>
<text transform="translate(1585.5 453.1) scale(1 1.075)">200</text>
</g>
<g class="t" text-anchor="end">
<text transform="translate(1004.5 416.2) scale(1 1.075)">-60</text>
<text transform="translate(1004.5 354.0) scale(1 1.075)">-40</text>
<text transform="translate(1004.5 291.8) scale(1 1.075)">-20</text>
<text transform="translate(1004.5 229.6) scale(1 1.075)">0</text>
<text transform="translate(1004.5 167.5) scale(1 1.075)">20</text>
<text transform="translate(1004.5 105.3) scale(1 1.075)">40</text>
<text transform="translate(1004.5 43.1) scale(1 1.075)">60</text>
</g>
<text class="l" text-anchor="middle" transform="translate(1305.7 501.0) scale(1 1.075)">LVEDV(mL):(HM + manual 3DE)/2</text>
<text class="l" text-anchor="middle" transform="translate(948.0 219.9) rotate(-90) scale(1 1.075)">LVEDV(mL):HM - manual 3DE</text>
<text class="a" transform="translate(1406.2 358.4) scale(1 1.07)">Bias:10.1mL</text>
<text class="a" transform="translate(1406.2 393.5) scale(1 1.07)">LOA:±21.9mL</text>
</g>
<g id="P2R">
<path d="M1037.3 714.5H1582.8" stroke="#000" stroke-width="3.1" stroke-linecap="round" stroke-dasharray="0.01 11.2" fill="none"/>
<path d="M1025.8 706.4H1585.8" stroke="#FC7F06" stroke-width="4" fill="none"/>
<path d="M1024.7 637.6H1585.8" stroke="#FC7F06" stroke-width="4" stroke-dasharray="10.3 8.38" fill="none"/>
<path d="M1024.7 775.3H1585.8" stroke="#FC7F06" stroke-width="4" stroke-dasharray="10.3 8.38" fill="none"/>
<g class="d"><circle cx="1264.0" cy="641.4" r="4.0"/><circle cx="1201.0" cy="652.6" r="4.0"/><circle cx="1234.3" cy="662.4" r="4.0"/><circle cx="1241.7" cy="663.1" r="4.0"/><circle cx="1278.3" cy="666.4" r="4.0"/><circle cx="1211.9" cy="672.4" r="4.0"/><circle cx="1240.0" cy="672.6" r="4.0"/><circle cx="1243.1" cy="677.9" r="4.0"/><circle cx="1292.1" cy="678.3" r="4.0"/><circle cx="1268.9" cy="686.4" r="4.0"/><circle cx="1322.9" cy="682.9" r="4.0"/><circle cx="1325.0" cy="686.4" r="4.0"/><circle cx="1307.1" cy="692.1" r="4.0"/><circle cx="1350.0" cy="694.0" r="4.0"/><circle cx="1196.4" cy="694.3" r="4.0"/><circle cx="1205.7" cy="698.3" r="4.0"/><circle cx="1239.7" cy="696.0" r="4.0"/><circle cx="1280.7" cy="695.0" r="4.0"/><circle cx="1260.7" cy="696.9" r="4.0"/><circle cx="1267.9" cy="697.1" r="4.0"/><circle cx="1264.3" cy="700.7" r="4.0"/><circle cx="1270.0" cy="701.4" r="4.0"/><circle cx="1195.7" cy="705.0" r="4.0"/><circle cx="1277.1" cy="702.9" r="4.0"/><circle cx="1280.7" cy="706.4" r="4.0"/><circle cx="1258.6" cy="704.3" r="4.0"/><circle cx="1253.6" cy="708.3" r="4.0"/><circle cx="1245.7" cy="707.1" r="4.0"/><circle cx="1241.4" cy="710.0" r="4.0"/><circle cx="1235.0" cy="712.1" r="4.0"/><circle cx="1235.7" cy="715.7" r="4.0"/><circle cx="1266.4" cy="707.1" r="4.0"/><circle cx="1268.6" cy="710.7" r="4.0"/><circle cx="1270.3" cy="713.6" r="4.0"/><circle cx="1282.9" cy="710.7" r="4.0"/><circle cx="1285.0" cy="715.0" r="4.0"/><circle cx="1157.4" cy="711.4" r="4.0"/><circle cx="1177.9" cy="710.3" r="4.0"/><circle cx="1180.7" cy="716.1" r="4.0"/><circle cx="1194.7" cy="715.7" r="4.0"/><circle cx="1332.9" cy="713.1" r="4.0"/><circle cx="1169.7" cy="721.4" r="4.0"/><circle cx="1151.4" cy="725.7" r="4.0"/><circle cx="1245.7" cy="720.0" r="4.0"/><circle cx="1259.3" cy="720.0" r="4.0"/><circle cx="1261.4" cy="723.6" r="4.0"/><circle cx="1264.0" cy="727.4" r="4.0"/><circle cx="1280.0" cy="719.3" r="4.0"/><circle cx="1288.6" cy="719.3" r="4.0"/><circle cx="1290.7" cy="722.9" r="4.0"/><circle cx="1295.0" cy="720.7" r="4.0"/><circle cx="1298.9" cy="726.4" r="4.0"/><circle cx="1344.0" cy="720.4" r="4.0"/><circle cx="1201.7" cy="728.6" r="4.0"/><circle cx="1235.7" cy="726.4" r="4.0"/><circle cx="1217.9" cy="731.4" r="4.0"/><circle cx="1223.6" cy="729.7" r="4.0"/><circle cx="1220.0" cy="735.7" r="4.0"/><circle cx="1222.1" cy="740.0" r="4.0"/><circle cx="1227.1" cy="738.6" r="4.0"/><circle cx="1231.4" cy="734.3" r="4.0"/><circle cx="1237.1" cy="732.9" r="4.0"/><circle cx="1241.4" cy="732.9" r="4.0"/><circle cx="1245.0" cy="730.0" r="4.0"/><circle cx="1237.4" cy="742.1" r="4.0"/><circle cx="1337.4" cy="733.6" r="4.0"/><circle cx="1289.3" cy="734.3" r="4.0"/><circle cx="1284.3" cy="738.6" r="4.0"/><circle cx="1278.6" cy="741.4" r="4.0"/><circle cx="1188.1" cy="741.4" r="4.0"/><circle cx="1176.4" cy="745.4" r="4.0"/><circle cx="1357.9" cy="745.7" r="4.0"/><circle cx="1217.4" cy="755.7" r="4.0"/><circle cx="1235.0" cy="762.1" r="4.0"/><circle cx="1259.3" cy="768.6" r="4.0"/><circle cx="1235.4" cy="775.7" r="4.0"/><circle cx="1299.0" cy="777.4" r="4.0"/><circle cx="1423.9" cy="563.5" r="4.0"/><circle cx="1310.0" cy="584.7" r="4.0"/><circle cx="1339.3" cy="612.7" r="4.0"/><circle cx="1328.3" cy="631.0" r="4.0"/><circle cx="1330.4" cy="634.5" r="4.0"/><circle cx="1370.5" cy="680.7" r="4.0"/><circle cx="1384.4" cy="680.3" r="4.0"/><circle cx="1413.5" cy="683.0" r="4.0"/><circle cx="1512.2" cy="683.0" r="4.0"/><circle cx="1518.0" cy="681.3" r="4.0"/><circle cx="1379.2" cy="695.8" r="4.0"/><circle cx="1374.0" cy="699.0" r="4.0"/><circle cx="1400.4" cy="708.9" r="4.0"/><circle cx="1448.4" cy="707.3" r="4.0"/><circle cx="1376.1" cy="716.2" r="4.0"/><circle cx="1391.7" cy="718.1" r="4.0"/><circle cx="1433.2" cy="718.1" r="4.0"/><circle cx="1396.9" cy="727.6" r="4.0"/><circle cx="1399.0" cy="731.6" r="4.0"/><circle cx="1397.3" cy="753.0" r="4.0"/></g>
<rect x="1025.8" y="528.5" width="560.0" height="372.0" fill="none" stroke="#000" stroke-width="4.0"/>
<path d="M1025.8 900.5v15.5M1165.8 900.5v15.5M1305.8 900.5v15.5M1445.8 900.5v15.5M1585.8 900.5v15.5M1025.8 900.5h-15.5M1025.8 838.5h-15.5M1025.8 776.5h-15.5M1025.8 714.5h-15.5M1025.8 652.5h-15.5M1025.8 590.5h-15.5M1025.8 528.5h-15.5M1025.8 706.4h-15.5M1025.8 637.6h-15.5M1025.8 775.3h-15.5" stroke="#000" stroke-width="4.0" fill="none"/>
<g class="t" text-anchor="middle">
<text transform="translate(1025.8 946.9) scale(1 1.075)">0</text>
<text transform="translate(1165.8 946.9) scale(1 1.075)">20</text>
<text transform="translate(1305.8 946.9) scale(1 1.075)">40</text>
<text transform="translate(1445.8 946.9) scale(1 1.075)">60</text>
<text transform="translate(1585.8 946.9) scale(1 1.075)">80</text>
</g>
<g class="t" text-anchor="end">
<text transform="translate(1004.5 910.2) scale(1 1.075)">-30</text>
<text transform="translate(1004.5 848.2) scale(1 1.075)">-20</text>
<text transform="translate(1004.5 786.2) scale(1 1.075)">-10</text>
<text transform="translate(1004.5 724.2) scale(1 1.075)">0</text>
<text transform="translate(1004.5 662.2) scale(1 1.075)">10</text>
<text transform="translate(1004.5 600.2) scale(1 1.075)">20</text>
<text transform="translate(1004.5 538.2) scale(1 1.075)">30</text>
</g>
<text class="l" text-anchor="middle" transform="translate(1305.8 995.0) scale(1 1.075)">LVESV(mL):(HM + manual 3DE)/2</text>
<text class="l" text-anchor="middle" transform="translate(948.0 714.5) rotate(-90) scale(1 1.075)">LVESV(mL):HM - manual 3DE</text>
<text class="a" transform="translate(1406.2 847.5) scale(1 1.07)">Bias:1.3mL</text>
<text class="a" transform="translate(1406.2 883.4) scale(1 1.07)">LOA:±11.1mL</text>
</g>
<g id="P3R">
<path d="M1037.1 1207.9H1582.8" stroke="#000" stroke-width="3.1" stroke-linecap="round" stroke-dasharray="0.01 11.2" fill="none"/>
<path d="M1025.6 1171.9H1585.8" stroke="#FC7F06" stroke-width="4" fill="none"/>
<path d="M1024.5 1091.0H1585.8" stroke="#FC7F06" stroke-width="4" stroke-dasharray="10.3 8.38" fill="none"/>
<path d="M1024.5 1252.7H1585.8" stroke="#FC7F06" stroke-width="4" stroke-dasharray="10.3 8.38" fill="none"/>
<g class="d"><circle cx="1252.2" cy="1112.3" r="4.0"/><circle cx="1270.8" cy="1111.8" r="4.0"/><circle cx="1311.6" cy="1116.3" r="4.0"/><circle cx="1187.2" cy="1124.4" r="4.0"/><circle cx="1243.4" cy="1124.9" r="4.0"/><circle cx="1251.4" cy="1135.9" r="4.0"/><circle cx="1169.1" cy="1150.2" r="4.0"/><circle cx="1243.4" cy="1150.6" r="4.0"/><circle cx="1117.6" cy="1156.5" r="4.0"/><circle cx="1176.6" cy="1160.2" r="4.0"/><circle cx="1105.0" cy="1164.6" r="4.0"/><circle cx="1184.7" cy="1171.4" r="4.0"/><circle cx="1112.9" cy="1174.7" r="4.0"/><circle cx="1171.2" cy="1177.9" r="4.0"/><circle cx="1190.6" cy="1179.3" r="4.0"/><circle cx="1262.3" cy="1174.7" r="4.0"/><circle cx="1265.7" cy="1179.3" r="4.0"/><circle cx="1300.3" cy="1175.9" r="4.0"/><circle cx="1256.4" cy="1192.0" r="4.0"/><circle cx="1277.5" cy="1195.0" r="4.0"/><circle cx="1316.0" cy="1197.4" r="4.0"/><circle cx="1205.3" cy="1198.4" r="4.0"/><circle cx="1210.0" cy="1204.1" r="4.0"/><circle cx="1227.7" cy="1203.8" r="4.0"/><circle cx="1284.0" cy="1203.4" r="4.0"/><circle cx="1275.0" cy="1216.9" r="4.0"/><circle cx="1295.3" cy="1219.0" r="4.0"/><circle cx="1191.4" cy="1230.3" r="4.0"/><circle cx="1308.8" cy="1237.2" r="4.0"/><circle cx="1272.5" cy="1238.9" r="4.0"/><circle cx="1224.0" cy="1248.5" r="4.0"/><circle cx="1207.0" cy="1275.5" r="4.0"/><circle cx="1226.4" cy="1275.9" r="4.0"/><circle cx="1326.8" cy="1086.8" r="4.0"/><circle cx="1334.0" cy="1146.4" r="4.0"/><circle cx="1334.9" cy="1172.0" r="4.0"/><circle cx="1330.5" cy="1191.4" r="4.0"/><circle cx="1331.0" cy="1217.3" r="4.0"/><circle cx="1334.9" cy="1221.5" r="4.0"/><circle cx="1321.4" cy="1227.9" r="4.0"/><circle cx="1479.0" cy="1066.2" r="4.0"/><circle cx="1515.8" cy="1065.7" r="4.0"/><circle cx="1361.0" cy="1083.4" r="4.0"/><circle cx="1383.3" cy="1112.3" r="4.0"/><circle cx="1386.7" cy="1116.8" r="4.0"/><circle cx="1444.1" cy="1118.8" r="4.0"/><circle cx="1521.8" cy="1123.1" r="4.0"/><circle cx="1525.1" cy="1126.9" r="4.0"/><circle cx="1355.5" cy="1124.9" r="4.0"/><circle cx="1339.1" cy="1128.3" r="4.0"/><circle cx="1398.2" cy="1132.4" r="4.0"/><circle cx="1346.5" cy="1138.3" r="4.0"/><circle cx="1363.9" cy="1136.2" r="4.0"/><circle cx="1366.9" cy="1140.5" r="4.0"/><circle cx="1515.8" cy="1139.9" r="4.0"/><circle cx="1406.6" cy="1143.5" r="4.0"/><circle cx="1465.7" cy="1147.5" r="4.0"/><circle cx="1392.3" cy="1148.9" r="4.0"/><circle cx="1354.6" cy="1149.4" r="4.0"/><circle cx="1359.7" cy="1154.8" r="4.0"/><circle cx="1361.7" cy="1158.2" r="4.0"/><circle cx="1414.0" cy="1154.0" r="4.0"/><circle cx="1431.9" cy="1152.8" r="4.0"/><circle cx="1437.3" cy="1159.4" r="4.0"/><circle cx="1399.9" cy="1159.0" r="4.0"/><circle cx="1491.9" cy="1158.2" r="4.0"/><circle cx="1345.8" cy="1162.1" r="4.0"/><circle cx="1370.7" cy="1170.0" r="4.0"/><circle cx="1373.7" cy="1173.7" r="4.0"/><circle cx="1389.2" cy="1170.0" r="4.0"/><circle cx="1392.3" cy="1174.2" r="4.0"/><circle cx="1396.3" cy="1179.8" r="4.0"/><circle cx="1342.8" cy="1183.0" r="4.0"/><circle cx="1360.9" cy="1181.8" r="4.0"/><circle cx="1492.5" cy="1183.5" r="4.0"/><circle cx="1419.6" cy="1185.5" r="4.0"/><circle cx="1383.7" cy="1187.4" r="4.0"/><circle cx="1425.5" cy="1193.3" r="4.0"/><circle cx="1406.1" cy="1192.8" r="4.0"/><circle cx="1409.5" cy="1197.0" r="4.0"/><circle cx="1412.5" cy="1201.2" r="4.0"/><circle cx="1415.4" cy="1205.1" r="4.0"/><circle cx="1357.1" cy="1202.1" r="4.0"/><circle cx="1489.3" cy="1204.3" r="4.0"/><circle cx="1401.5" cy="1211.0" r="4.0"/><circle cx="1345.8" cy="1212.5" r="4.0"/><circle cx="1366.8" cy="1214.7" r="4.0"/><circle cx="1406.1" cy="1217.8" r="4.0"/><circle cx="1414.0" cy="1227.9" r="4.0"/><circle cx="1377.4" cy="1228.6" r="4.0"/></g>
<rect x="1025.6" y="1021.3" width="560.2" height="373.3" fill="none" stroke="#000" stroke-width="4.0"/>
<path d="M1025.6 1394.6v15.5M1119.0 1394.6v15.5M1212.3 1394.6v15.5M1305.7 1394.6v15.5M1399.1 1394.6v15.5M1492.4 1394.6v15.5M1585.8 1394.6v15.5M1025.6 1394.6h-15.5M1025.6 1332.4h-15.5M1025.6 1270.2h-15.5M1025.6 1207.9h-15.5M1025.6 1145.7h-15.5M1025.6 1083.5h-15.5M1025.6 1021.3h-15.5M1025.6 1171.9h-15.5M1025.6 1091.0h-15.5M1025.6 1252.7h-15.5" stroke="#000" stroke-width="4.0" fill="none"/>
<g class="t" text-anchor="middle">
<text transform="translate(1025.6 1440.9) scale(1 1.075)">45</text>
<text transform="translate(1119.0 1440.9) scale(1 1.075)">50</text>
<text transform="translate(1212.3 1440.9) scale(1 1.075)">55</text>
<text transform="translate(1305.7 1440.9) scale(1 1.075)">60</text>
<text transform="translate(1399.1 1440.9) scale(1 1.075)">65</text>
<text transform="translate(1492.4 1440.9) scale(1 1.075)">70</text>
<text transform="translate(1585.8 1440.9) scale(1 1.075)">75</text>
</g>
<g class="t" text-anchor="end">
<text transform="translate(1004.3 1404.3) scale(1 1.075)">-15</text>
<text transform="translate(1004.3 1342.1) scale(1 1.075)">-10</text>
<text transform="translate(1004.3 1279.9) scale(1 1.075)">-5</text>
<text transform="translate(1004.3 1217.6) scale(1 1.075)">0</text>
<text transform="translate(1004.3 1155.4) scale(1 1.075)">5</text>
<text transform="translate(1004.3 1093.2) scale(1 1.075)">10</text>
<text transform="translate(1004.3 1031.0) scale(1 1.075)">15</text>
</g>
<text class="l" text-anchor="middle" transform="translate(1305.7 1489.0) scale(1 1.075)">LVEF(%):(HM + manual 3DE)/2</text>
<text class="l" text-anchor="middle" transform="translate(948.0 1207.9) rotate(-90) scale(1 1.075)">LVEF(%):HM - manual 3DE</text>
<text class="a" transform="translate(1402.4 1338.2) scale(1 1.07)">Bias:2.9%</text>
<text class="a" transform="translate(1402.4 1374.5) scale(1 1.07)">LOA:±6.5%</text>
</g>
<g id="P4R">
<path d="M1037.3 1716.6H1582.4" stroke="#000" stroke-width="3.1" stroke-linecap="round" stroke-dasharray="0.01 11.2" fill="none"/>
<path d="M1025.8 1716.6H1585.4" stroke="#FC7F06" stroke-width="4" fill="none"/>
<path d="M1024.7 1642.0H1585.4" stroke="#FC7F06" stroke-width="4" stroke-dasharray="10.3 8.38" fill="none"/>
<path d="M1024.7 1791.1H1585.4" stroke="#FC7F06" stroke-width="4" stroke-dasharray="10.3 8.38" fill="none"/>
<g class="d"><circle cx="1215.3" cy="1653.5" r="4.0"/><circle cx="1274.0" cy="1653.8" r="4.0"/><circle cx="1283.6" cy="1662.8" r="4.0"/><circle cx="1339.9" cy="1662.8" r="4.0"/><circle cx="1375.3" cy="1661.6" r="4.0"/><circle cx="1272.2" cy="1674.3" r="4.0"/><circle cx="1257.5" cy="1679.2" r="4.0"/><circle cx="1277.7" cy="1681.0" r="4.0"/><circle cx="1291.2" cy="1680.0" r="4.0"/><circle cx="1322.0" cy="1685.9" r="4.0"/><circle cx="1363.8" cy="1685.9" r="4.0"/><circle cx="1303.1" cy="1687.3" r="4.0"/><circle cx="1292.6" cy="1689.0" r="4.0"/><circle cx="1299.7" cy="1692.8" r="4.0"/><circle cx="1238.1" cy="1691.2" r="4.0"/><circle cx="1350.3" cy="1693.7" r="4.0"/><circle cx="1159.0" cy="1696.2" r="4.0"/><circle cx="1173.6" cy="1698.2" r="4.0"/><circle cx="1332.6" cy="1698.2" r="4.0"/><circle cx="1338.5" cy="1697.9" r="4.0"/><circle cx="1231.3" cy="1701.6" r="4.0"/><circle cx="1230.5" cy="1706.7" r="4.0"/><circle cx="1212.7" cy="1704.5" r="4.0"/><circle cx="1217.8" cy="1702.8" r="4.0"/><circle cx="1334.3" cy="1707.2" r="4.0"/><circle cx="1192.5" cy="1708.7" r="4.0"/><circle cx="1201.2" cy="1709.7" r="4.0"/><circle cx="1262.2" cy="1708.0" r="4.0"/><circle cx="1266.4" cy="1710.9" r="4.0"/><circle cx="1255.8" cy="1712.6" r="4.0"/><circle cx="1251.2" cy="1714.8" r="4.0"/><circle cx="1284.8" cy="1709.2" r="4.0"/><circle cx="1292.9" cy="1708.9" r="4.0"/><circle cx="1296.3" cy="1706.4" r="4.0"/><circle cx="1300.5" cy="1706.4" r="4.0"/><circle cx="1155.0" cy="1712.9" r="4.0"/><circle cx="1171.9" cy="1712.9" r="4.0"/><circle cx="1169.7" cy="1715.6" r="4.0"/><circle cx="1309.8" cy="1714.3" r="4.0"/><circle cx="1237.7" cy="1716.0" r="4.0"/><circle cx="1253.2" cy="1719.9" r="4.0"/><circle cx="1275.5" cy="1719.0" r="4.0"/><circle cx="1136.4" cy="1720.7" r="4.0"/><circle cx="1215.8" cy="1722.7" r="4.0"/><circle cx="1226.2" cy="1722.4" r="4.0"/><circle cx="1293.8" cy="1722.4" r="4.0"/><circle cx="1320.8" cy="1721.4" r="4.0"/><circle cx="1340.2" cy="1719.9" r="4.0"/><circle cx="1306.1" cy="1724.9" r="4.0"/><circle cx="1150.3" cy="1726.9" r="4.0"/><circle cx="1196.4" cy="1723.6" r="4.0"/><circle cx="1202.6" cy="1725.3" r="4.0"/><circle cx="1192.5" cy="1727.8" r="4.0"/><circle cx="1197.5" cy="1728.6" r="4.0"/><circle cx="1205.1" cy="1730.3" r="4.0"/><circle cx="1191.6" cy="1732.4" r="4.0"/><circle cx="1197.5" cy="1732.5" r="4.0"/><circle cx="1240.6" cy="1729.5" r="4.0"/><circle cx="1242.3" cy="1732.9" r="4.0"/><circle cx="1352.9" cy="1729.1" r="4.0"/><circle cx="1342.4" cy="1731.2" r="4.0"/><circle cx="1181.5" cy="1734.9" r="4.0"/><circle cx="1149.1" cy="1737.6" r="4.0"/><circle cx="1225.4" cy="1738.4" r="4.0"/><circle cx="1209.9" cy="1741.3" r="4.0"/><circle cx="1349.1" cy="1740.5" r="4.0"/><circle cx="1180.3" cy="1744.3" r="4.0"/><circle cx="1193.0" cy="1747.5" r="4.0"/><circle cx="1232.5" cy="1747.5" r="4.0"/><circle cx="1302.5" cy="1741.8" r="4.0"/><circle cx="1311.2" cy="1743.0" r="4.0"/><circle cx="1271.8" cy="1742.1" r="4.0"/><circle cx="1276.0" cy="1746.0" r="4.0"/><circle cx="1257.0" cy="1746.0" r="4.0"/><circle cx="1213.6" cy="1749.4" r="4.0"/><circle cx="1217.8" cy="1753.1" r="4.0"/><circle cx="1213.9" cy="1756.5" r="4.0"/><circle cx="1299.7" cy="1749.7" r="4.0"/><circle cx="1298.3" cy="1753.1" r="4.0"/><circle cx="1162.9" cy="1755.1" r="4.0"/><circle cx="1138.9" cy="1757.0" r="4.0"/><circle cx="1258.7" cy="1756.5" r="4.0"/><circle cx="1267.6" cy="1757.7" r="4.0"/><circle cx="1157.0" cy="1761.1" r="4.0"/><circle cx="1162.4" cy="1766.3" r="4.0"/><circle cx="1172.7" cy="1764.9" r="4.0"/><circle cx="1208.5" cy="1764.1" r="4.0"/><circle cx="1285.3" cy="1766.3" r="4.0"/><circle cx="1266.8" cy="1773.7" r="4.0"/><circle cx="1193.8" cy="1774.6" r="4.0"/><circle cx="1248.5" cy="1783.5" r="4.0"/><circle cx="1225.4" cy="1794.1" r="4.0"/><circle cx="1249.5" cy="1593.3" r="4.0"/><circle cx="1368.2" cy="1589.1" r="4.0"/><circle cx="1430.4" cy="1596.9" r="4.0"/><circle cx="1350.4" cy="1612.7" r="4.0"/><circle cx="1476.7" cy="1675.5" r="4.0"/><circle cx="1397.6" cy="1704.5" r="4.0"/><circle cx="1439.5" cy="1716.7" r="4.0"/><circle cx="1404.5" cy="1720.4" r="4.0"/></g>
<rect x="1025.8" y="1530.2" width="559.6" height="372.7" fill="none" stroke="#000" stroke-width="4.0"/>
<path d="M1025.8 1902.9v15.5M1165.7 1902.9v15.5M1305.6 1902.9v15.5M1445.5 1902.9v15.5M1585.4 1902.9v15.5M1025.8 1902.9h-15.5M1025.8 1840.8h-15.5M1025.8 1778.7h-15.5M1025.8 1716.6h-15.5M1025.8 1654.4h-15.5M1025.8 1592.3h-15.5M1025.8 1530.2h-15.5M1025.8 1716.6h-15.5M1025.8 1642.0h-15.5M1025.8 1791.1h-15.5" stroke="#000" stroke-width="4.0" fill="none"/>
<g class="t" text-anchor="middle">
<text transform="translate(1025.8 1949.7) scale(1 1.075)">0</text>
<text transform="translate(1165.7 1949.7) scale(1 1.075)">50</text>
<text transform="translate(1305.6 1949.7) scale(1 1.075)">100</text>
<text transform="translate(1445.5 1949.7) scale(1 1.075)">150</text>
<text transform="translate(1585.4 1949.7) scale(1 1.075)">200</text>
</g>
<g class="t" text-anchor="end">
<text transform="translate(1004.5 1912.6) scale(1 1.075)">-60</text>
<text transform="translate(1004.5 1850.5) scale(1 1.075)">-40</text>
<text transform="translate(1004.5 1788.4) scale(1 1.075)">-20</text>
<text transform="translate(1004.5 1726.3) scale(1 1.075)">0</text>
<text transform="translate(1004.5 1664.1) scale(1 1.075)">20</text>
<text transform="translate(1004.5 1602.0) scale(1 1.075)">40</text>
<text transform="translate(1004.5 1539.9) scale(1 1.075)">60</text>
</g>
<text class="l" text-anchor="middle" transform="translate(1305.6 1996.5) scale(1 1.075)">LAVmax(mL):(HM + manual 3DE)/2</text>
<text class="l" text-anchor="middle" transform="translate(948.0 1716.6) rotate(-90) scale(1 1.075)">LAVmax(mL):HM - manual 3DE</text>
<text class="a" transform="translate(1402.4 1849.2) scale(1 1.07)">Bias:-0.0mL</text>
<text class="a" transform="translate(1402.4 1884.3) scale(1 1.07)">LOA:±24.0mL</text>
</g>
<g id="P5R">
<path d="M1037.7 2208.4H1583.0" stroke="#000" stroke-width="3.1" stroke-linecap="round" stroke-dasharray="0.01 11.2" fill="none"/>
<path d="M1026.2 2224.8H1586.0" stroke="#FC7F06" stroke-width="4" fill="none"/>
<path d="M1025.1 2148.4H1586.0" stroke="#FC7F06" stroke-width="4" stroke-dasharray="10.3 8.38" fill="none"/>
<path d="M1025.1 2301.3H1586.0" stroke="#FC7F06" stroke-width="4" stroke-dasharray="10.3 8.38" fill="none"/>
<g class="d"><circle cx="1232.3" cy="2166.0" r="4.0"/><circle cx="1170.2" cy="2175.2" r="4.0"/><circle cx="1254.9" cy="2172.9" r="4.0"/><circle cx="1273.8" cy="2180.6" r="4.0"/><circle cx="1297.2" cy="2181.0" r="4.0"/><circle cx="1247.9" cy="2186.9" r="4.0"/><circle cx="1222.2" cy="2193.3" r="4.0"/><circle cx="1220.7" cy="2197.2" r="4.0"/><circle cx="1336.6" cy="2196.8" r="4.0"/><circle cx="1338.5" cy="2200.1" r="4.0"/><circle cx="1141.0" cy="2200.1" r="4.0"/><circle cx="1158.9" cy="2199.2" r="4.0"/><circle cx="1153.1" cy="2202.1" r="4.0"/><circle cx="1207.6" cy="2199.7" r="4.0"/><circle cx="1291.9" cy="2197.8" r="4.0"/><circle cx="1282.2" cy="2199.7" r="4.0"/><circle cx="1255.9" cy="2199.7" r="4.0"/><circle cx="1311.8" cy="2199.5" r="4.0"/><circle cx="1265.7" cy="2203.6" r="4.0"/><circle cx="1325.1" cy="2205.0" r="4.0"/><circle cx="1322.5" cy="2206.0" r="4.0"/><circle cx="1193.0" cy="2206.0" r="4.0"/><circle cx="1197.9" cy="2206.6" r="4.0"/><circle cx="1195.9" cy="2210.8" r="4.0"/><circle cx="1203.7" cy="2205.0" r="4.0"/><circle cx="1208.6" cy="2205.0" r="4.0"/><circle cx="1212.5" cy="2206.9" r="4.0"/><circle cx="1170.6" cy="2206.6" r="4.0"/><circle cx="1166.7" cy="2208.9" r="4.0"/><circle cx="1161.8" cy="2210.5" r="4.0"/><circle cx="1234.5" cy="2206.9" r="4.0"/><circle cx="1237.8" cy="2209.9" r="4.0"/><circle cx="1225.1" cy="2209.5" r="4.0"/><circle cx="1251.4" cy="2210.5" r="4.0"/><circle cx="1276.8" cy="2209.9" r="4.0"/><circle cx="1117.0" cy="2210.5" r="4.0"/><circle cx="1103.4" cy="2211.8" r="4.0"/><circle cx="1133.2" cy="2213.4" r="4.0"/><circle cx="1181.9" cy="2213.2" r="4.0"/><circle cx="1208.0" cy="2213.4" r="4.0"/><circle cx="1241.7" cy="2213.4" r="4.0"/><circle cx="1235.3" cy="2215.1" r="4.0"/><circle cx="1089.7" cy="2215.1" r="4.0"/><circle cx="1106.3" cy="2218.6" r="4.0"/><circle cx="1306.0" cy="2214.7" r="4.0"/><circle cx="1315.1" cy="2216.7" r="4.0"/><circle cx="1352.3" cy="2211.4" r="4.0"/><circle cx="1370.7" cy="2210.5" r="4.0"/><circle cx="1166.3" cy="2218.6" r="4.0"/><circle cx="1179.0" cy="2220.6" r="4.0"/><circle cx="1239.7" cy="2221.6" r="4.0"/><circle cx="1232.9" cy="2223.5" r="4.0"/><circle cx="1188.5" cy="2224.1" r="4.0"/><circle cx="1218.7" cy="2224.9" r="4.0"/><circle cx="1260.6" cy="2225.1" r="4.0"/><circle cx="1303.4" cy="2223.1" r="4.0"/><circle cx="1100.1" cy="2225.8" r="4.0"/><circle cx="1119.9" cy="2228.0" r="4.0"/><circle cx="1121.9" cy="2231.9" r="4.0"/><circle cx="1132.6" cy="2230.7" r="4.0"/><circle cx="1142.3" cy="2228.4" r="4.0"/><circle cx="1147.2" cy="2229.7" r="4.0"/><circle cx="1155.6" cy="2231.3" r="4.0"/><circle cx="1165.3" cy="2229.4" r="4.0"/><circle cx="1240.3" cy="2229.9" r="4.0"/><circle cx="1248.9" cy="2231.3" r="4.0"/><circle cx="1317.7" cy="2228.0" r="4.0"/><circle cx="1339.1" cy="2232.7" r="4.0"/><circle cx="1357.6" cy="2238.1" r="4.0"/><circle cx="1190.5" cy="2239.1" r="4.0"/><circle cx="1192.0" cy="2243.0" r="4.0"/><circle cx="1198.2" cy="2240.1" r="4.0"/><circle cx="1203.7" cy="2243.0" r="4.0"/><circle cx="1235.3" cy="2241.0" r="4.0"/><circle cx="1300.7" cy="2243.0" r="4.0"/><circle cx="1179.0" cy="2245.5" r="4.0"/><circle cx="1113.5" cy="2247.9" r="4.0"/><circle cx="1225.1" cy="2247.5" r="4.0"/><circle cx="1185.8" cy="2251.2" r="4.0"/><circle cx="1158.3" cy="2253.7" r="4.0"/><circle cx="1316.7" cy="2250.2" r="4.0"/><circle cx="1313.4" cy="2252.7" r="4.0"/><circle cx="1230.4" cy="2257.0" r="4.0"/><circle cx="1139.4" cy="2259.9" r="4.0"/><circle cx="1204.7" cy="2263.4" r="4.0"/><circle cx="1313.4" cy="2264.4" r="4.0"/><circle cx="1247.9" cy="2266.8" r="4.0"/><circle cx="1281.2" cy="2266.8" r="4.0"/><circle cx="1147.8" cy="2268.9" r="4.0"/><circle cx="1274.2" cy="2274.2" r="4.0"/><circle cx="1245.2" cy="2275.1" r="4.0"/><circle cx="1260.6" cy="2281.6" r="4.0"/><circle cx="1239.7" cy="2303.0" r="4.0"/><circle cx="1218.3" cy="2329.3" r="4.0"/><circle cx="1254.9" cy="2334.9" r="4.0"/><circle cx="1174.1" cy="2343.3" r="4.0"/><circle cx="1468.9" cy="2057.1" r="4.0"/><circle cx="1423.3" cy="2180" r="4.0"/><circle cx="1459.6" cy="2178.6" r="4.0"/><circle cx="1189.3" cy="2368.6" r="4.0"/></g>
<rect x="1026.2" y="2021.9" width="559.8" height="372.9" fill="none" stroke="#000" stroke-width="4.0"/>
<path d="M1026.2 2394.8v15.5M1212.8 2394.8v15.5M1399.4 2394.8v15.5M1586.0 2394.8v15.5M1026.2 2394.8h-15.5M1026.2 2332.7h-15.5M1026.2 2270.5h-15.5M1026.2 2208.4h-15.5M1026.2 2146.2h-15.5M1026.2 2084.1h-15.5M1026.2 2021.9h-15.5M1026.2 2224.8h-15.5M1026.2 2148.4h-15.5M1026.2 2301.3h-15.5" stroke="#000" stroke-width="4.0" fill="none"/>
<g class="t" text-anchor="middle">
<text transform="translate(1026.2 2441.4) scale(1 1.075)">0</text>
<text transform="translate(1212.8 2441.4) scale(1 1.075)">50</text>
<text transform="translate(1399.4 2441.4) scale(1 1.075)">100</text>
<text transform="translate(1586.0 2441.4) scale(1 1.075)">150</text>
</g>
<g class="t" text-anchor="end">
<text transform="translate(1004.9 2404.5) scale(1 1.075)">-60</text>
<text transform="translate(1004.9 2342.3) scale(1 1.075)">-40</text>
<text transform="translate(1004.9 2280.2) scale(1 1.075)">-20</text>
<text transform="translate(1004.9 2218.1) scale(1 1.075)">0</text>
<text transform="translate(1004.9 2155.9) scale(1 1.075)">20</text>
<text transform="translate(1004.9 2093.8) scale(1 1.075)">40</text>
<text transform="translate(1004.9 2031.6) scale(1 1.075)">60</text>
</g>
<text class="l" text-anchor="middle" transform="translate(1306.1 2488.0) scale(1 1.075)">LAVmin(mL):(HM + manual 3DE)/2</text>
<text class="l" text-anchor="middle" transform="translate(948.0 2208.4) rotate(-90) scale(1 1.075)">LAVmin(mL):HM - manual 3DE</text>
<text class="a" transform="translate(1402.4 2345.8) scale(1 1.07)">Bias:-5.3mL</text>
<text class="a" transform="translate(1402.4 2382.0) scale(1 1.07)">LOA:±24.6mL</text>
</g>
</svg></body></html>
